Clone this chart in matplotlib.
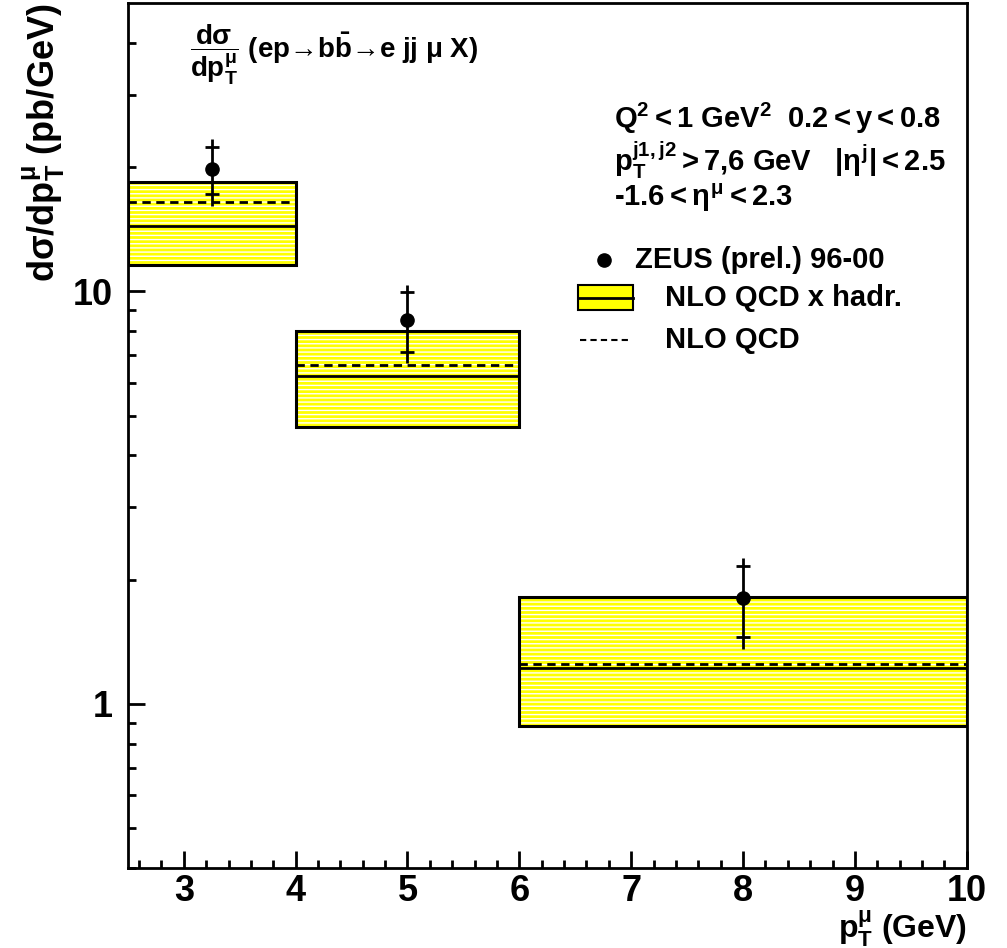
import matplotlib
matplotlib.use("Agg")
import matplotlib.pyplot as plt
from matplotlib.patches import Rectangle
from matplotlib.lines import Line2D
from matplotlib.ticker import FixedLocator, MultipleLocator, NullFormatter

plt.rcParams['font.family'] = ['Liberation Sans', 'DejaVu Sans']
plt.rcParams['font.weight'] = 'bold'
plt.rcParams['mathtext.fontset'] = 'custom'
plt.rcParams['mathtext.rm'] = 'Liberation Sans:bold'
plt.rcParams['mathtext.it'] = 'Liberation Sans:bold'
plt.rcParams['mathtext.bf'] = 'Liberation Sans:bold'
plt.rcParams['mathtext.sf'] = 'Liberation Sans:bold'
plt.rcParams['hatch.color'] = 'white'
plt.rcParams['hatch.linewidth'] = 1.0

# theory bins (NLO QCD band)
bin_lo = [2.5, 4.0, 6.0]
bin_hi = [4.0, 6.0, 10.0]
band_lo = [11.56, 4.69, 0.882]
band_hi = [18.44, 8.01, 1.816]
nlo_had = [14.43, 6.23, 1.224]
nlo = [16.50, 6.63, 1.249]

# ZEUS data
x_data = [3.25, 5.0, 8.0]
y_data = [19.8, 8.51, 1.806]
stat_up = [22.4, 9.95, 2.158]
stat_dn = [17.25, 7.12, 1.454]
tot_up = [23.4, 10.34, 2.253]
tot_dn = [16.13, 6.70, 1.358]

fig = plt.figure(figsize=(10.07, 9.48), dpi=100)
ax = fig.add_axes([0.127, 0.0844, 0.833, 0.9124])
ax.set_yscale('log')
ax.set_xlim(2.5, 10)
ax.set_ylim(0.4, 50)

for lo, hi, blo, bhi, yh, yn in zip(bin_lo, bin_hi, band_lo, band_hi, nlo_had, nlo):
    ax.add_patch(Rectangle((lo, blo), hi - lo, bhi - blo, facecolor='#ffff00',
                           hatch='----', linewidth=0, zorder=1))
    ax.add_patch(Rectangle((lo, blo), hi - lo, bhi - blo, fill=False,
                           edgecolor='black', linewidth=2.2, zorder=2))
    ax.plot([lo, hi], [yh, yh], color='black', lw=2, zorder=3)
    ax.plot([lo, hi], [yn, yn], color='black', lw=2, ls=(0, (3, 2)), zorder=3)

tot_err = [[y - d for y, d in zip(y_data, tot_dn)], [u - y for y, u in zip(y_data, tot_up)]]
stat_err = [[y - d for y, d in zip(y_data, stat_dn)], [u - y for y, u in zip(y_data, stat_up)]]
ax.errorbar(x_data, y_data, yerr=tot_err, fmt='o', color='black', ms=9.5,
            elinewidth=2, capsize=0, zorder=5)
ax.errorbar(x_data, y_data, yerr=stat_err, fmt='none', ecolor='black',
            elinewidth=0, capsize=5, capthick=2, zorder=5)

# axes styling, ROOT like
for s in ax.spines.values():
    s.set_linewidth(2)
ax.xaxis.set_major_locator(MultipleLocator(1))
ax.xaxis.set_minor_locator(MultipleLocator(0.2))
ax.yaxis.set_major_locator(FixedLocator([1, 10]))
ax.yaxis.set_minor_locator(FixedLocator([0.4, 0.5, 0.6, 0.7, 0.8, 0.9, 2, 3, 4, 5,
                                         6, 7, 8, 9, 20, 30, 40]))
ax.yaxis.set_minor_formatter(NullFormatter())
ax.set_yticklabels(['1', '10'])
ax.tick_params(which='both', direction='in', top=False, right=False, width=2,
               labelsize=26)
ax.tick_params(which='major', length=12)
ax.tick_params(which='minor', length=6)
ax.tick_params(axis='x', pad=4)
ax.tick_params(axis='y', pad=11)
for lab in ax.get_xticklabels() + ax.get_yticklabels():
    lab.set_fontweight('bold')

ax.set_xlabel(r'$\mathregular{p_T^\mu}$ (GeV)', fontsize=23, fontweight='bold', loc='right')
ax.xaxis.label.set_va('baseline')
ax.xaxis.set_label_coords(1.0, -0.081)
ax.set_ylabel(r'$\mathregular{d\sigma/dp_T^\mu}$ (pb/GeV)', fontsize=26, fontweight='bold', loc='top')
ax.yaxis.set_label_coords(-0.073, 1.0)

ax.text(0.074, 0.94, r'$\mathregular{\dfrac{d\sigma}{dp_T^\mu}}$ (ep→b$\mathregular{\bar{b}}$→e jj $\mu$ X)',
        transform=ax.transAxes, fontsize=20, va='center')

fs = 21
ax.text(0.58, 0.867, r'Q$^2$$<$1 GeV$^2$  0.2$<$y$<$0.8', transform=ax.transAxes,
        fontsize=fs, va='center')
ax.text(0.58, 0.818, r'p$_T^{j1,j2}$$>$7,6 GeV   |$\eta^j$|$<$2.5', transform=ax.transAxes,
        fontsize=fs, va='center')
ax.text(0.58, 0.775, r'-1.6$<$$\eta^\mu$$<$2.3', transform=ax.transAxes,
        fontsize=fs, va='center')

# legend
ax.add_line(Line2D([0.568], [0.703], marker='o', ms=9.5, color='black',
                   transform=ax.transAxes))
ax.text(0.604, 0.703, 'ZEUS (prel.) 96-00', transform=ax.transAxes, fontsize=fs, va='center')
ax.add_patch(Rectangle((0.536, 0.645), 0.066, 0.029, transform=ax.transAxes,
                       facecolor='#ffff00', edgecolor='black', linewidth=1.5))
ax.add_line(Line2D([0.536, 0.602], [0.6595, 0.6595], color='black', lw=2,
                   transform=ax.transAxes))
ax.text(0.640, 0.659, 'NLO QCD x hadr.', transform=ax.transAxes, fontsize=fs, va='center')
ax.add_line(Line2D([0.539, 0.598], [0.610, 0.610], color='black', lw=1.5,
                   ls=(0, (3, 2)), transform=ax.transAxes))
ax.text(0.640, 0.610, 'NLO QCD', transform=ax.transAxes, fontsize=fs, va='center')

fig.savefig('out.png', dpi=100)
